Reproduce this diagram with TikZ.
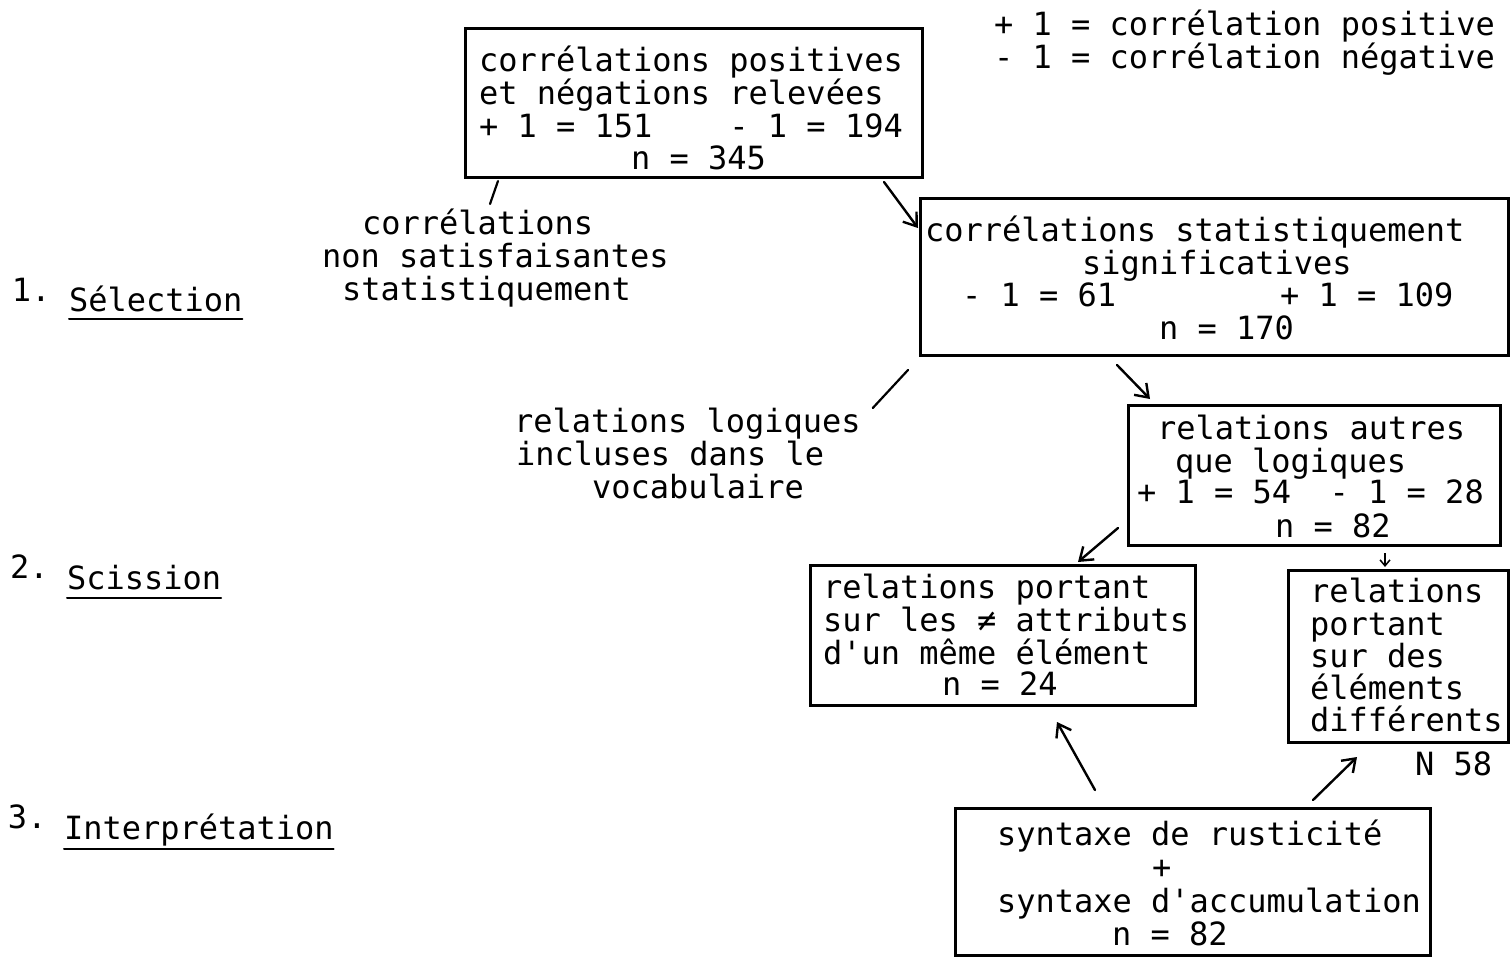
\documentclass[tikz,border=0pt]{standalone}
\usepackage{fontspec}
\newfontfamily\mono{DejaVu Sans Mono}[Ligatures=TeXOff]
\usetikzlibrary{arrows.meta,calc}
\begin{document}
\begin{tikzpicture}[x=1pt,y=-1pt,
  boxst/.style={draw, line width=3pt, anchor=north west, inner sep=0pt, outer sep=0pt},
  txt/.style={anchor=base west, inner sep=0pt, outer sep=0pt, font=\mono\fontsize{32pt}{33pt}\selectfont},
  conn/.style={line width=2.2pt, line cap=round},
  arr/.style={line width=2.4pt, line cap=round, -{Straight Barb[length=12pt,width=17pt]}},
  smallarr/.style={line width=1.5pt, -{Straight Barb[length=6pt,width=10pt]}},
  uline/.style={line width=2pt, line cap=round}]
\fill[white] (0,0) rectangle (1510,962);
\useasboundingbox (0,0) rectangle (1510,962);

% legend
\node[txt] (lg1) at (994,35) {+ 1 = corrélation positive};
\node[txt] (lg2) at (994,68) {- 1 = corrélation négative};

% box A
\node[boxst, minimum width=457pt, minimum height=149pt] (A) at (465,28) {};
\node[txt] (A1) at (479,71) {corrélations positives};
\node[txt] (A2) at (479,104) {et négations relevées};
\node[txt] (A3) at (479,137) {+ 1 = 151~~~~- 1 = 194};
\node[txt] (A4) at (631,169) {n = 345};

% box B
\node[boxst, minimum width=588pt, minimum height=157pt] (B) at (920,198) {};
\node[txt] (B1) at (925,241) {corrélations statistiquement};
\node[txt] (B2) at (1082,274) {significatives};
\node[txt] (B3a) at (962,306) {- 1 = 61};
\node[txt] (B3b) at (1280,306) {+ 1 = 109};
\node[txt] (B4) at (1159,339) {n = 170};

% box C
\node[boxst, minimum width=372pt, minimum height=140pt] (C) at (1128,405) {};
\node[txt] (C1) at (1157,439) {relations autres};
\node[txt] (C2) at (1175,472) {que logiques};
\node[txt] (C3) at (1137,503) {+ 1 = 54~~- 1 = 28};
\node[txt] (C4) at (1275,537) {n = 82};

% box D
\node[boxst, minimum width=385pt, minimum height=140pt] (D) at (810,565) {};
\node[txt] (D1) at (823,598) {relations portant};
\node[txt] (D2) at (823,631) {sur les ≠ attributs};
\node[txt] (D3) at (823,664) {d'un même élément};
\node[txt] (D4) at (942,695) {n = 24};

% box E
\node[boxst, minimum width=220pt, minimum height=172pt] (E) at (1288,570) {};
\node[txt] (E1) at (1310,602) {relations};
\node[txt] (E2) at (1310,635) {portant};
\node[txt] (E3) at (1310,667) {sur des};
\node[txt] (E4) at (1310,699) {éléments};
\node[txt] (E5) at (1310,731) {différents};
\node[txt] (E6) at (1415,775) {N 58};

% box F
\node[boxst, minimum width=475pt, minimum height=147pt] (F) at (955,808) {};
\node[txt] (F1) at (997,845) {syntaxe de rusticité};
\node[txt] (F2) at (1152,878) {+};
\node[txt] (F3) at (997,912) {syntaxe d'accumulation};
\node[txt] (F4) at (1112,945) {n = 82};

% free labels
\node[txt] (L1a) at (362,234) {corrélations};
\node[txt] (L1b) at (322,267) {non satisfaisantes};
\node[txt] (L1c) at (342,300) {statistiquement};

\node[txt] (L2a) at (514,432) {relations logiques};
\node[txt] (L2b) at (516,465) {incluses dans le};
\node[txt] (L2c) at (592,498) {vocabulaire};

% stage labels
\node[txt] (N1) at (12,301) {1.};
\node[txt] (S1) at (69,311) {Sélection};
\node[txt] (N2) at (10,578) {2.};
\node[txt] (S2) at (67,589) {Scission};
\node[txt] (N3) at (8,828) {3.};
\node[txt] (S3) at (64,839) {Interprétation};

\draw[uline] ($(S1.base west)+(0,8)$) -- ($(S1.base east)+(0,8)$);
\draw[uline] ($(S2.base west)+(0,9)$) -- ($(S2.base east)+(0,9)$);
\draw[uline] ($(S3.base west)+(0,10)$) -- ($(S3.base east)+(0,10)$);

% connectors
\draw[arr] ($(A.south east)+(-38,5)$) -- ($(B.north west)+(-2,30)$);
\draw[conn] ($(A.south west)+(33,4)$) -- ($(L1a.base west)+(128,-30)$);
\draw[conn] ($(B.south west)+(-12,15)$) -- ($(L2a.base east)+(12,-24)$);
\draw[arr] ($(B.south west)+(197,10)$) -- ($(C.north west)+(22,-6)$);
\draw[arr] ($(C.south west)+(-10,-17)$) -- ($(D.north west)+(268,-3)$);
\draw[smallarr] ($(C.south west)+(257,8)$) -- ($(E.north west)+(97,-3)$);
\draw[arr] ($(F.north west)+(140,-18)$) -- ($(D.south west)+(247,17)$);
\draw[arr] ($(F.north west)+(358,-8)$) -- ($(E.south west)+(69,15)$);
\end{tikzpicture}
\end{document}
